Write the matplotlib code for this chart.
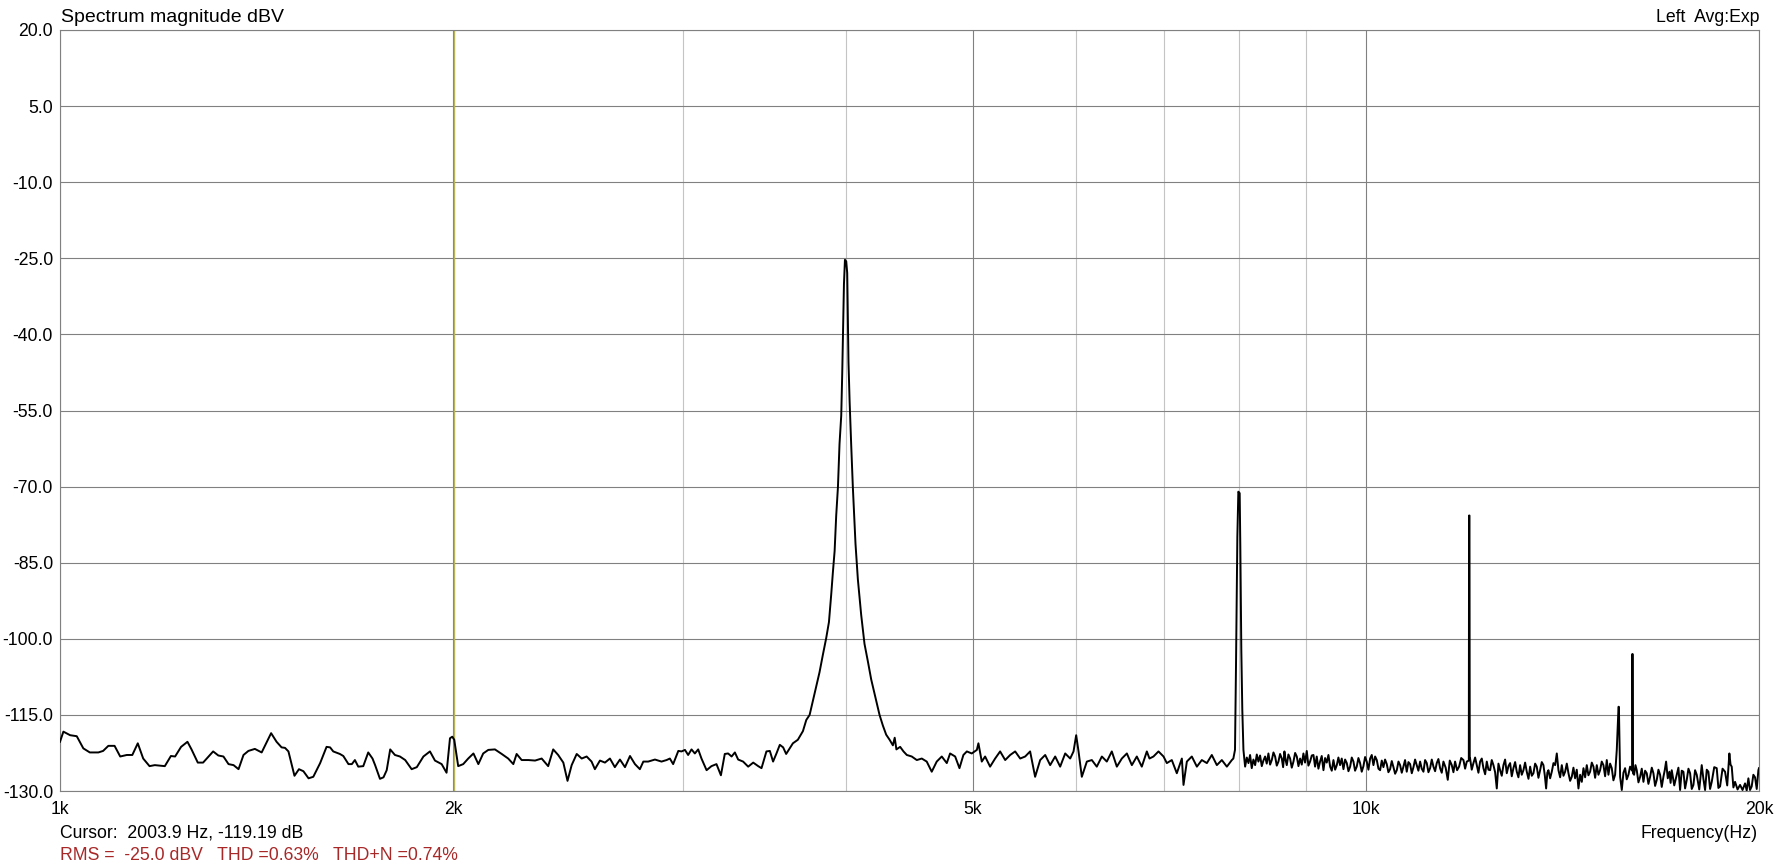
"""
Spectrum magnitude plot (dBV vs frequency), analyser-style layout.
"""

import matplotlib
matplotlib.use("Agg")
import matplotlib.pyplot as plt
import matplotlib.ticker as mticker

plt.rcParams["font.family"] = ["Liberation Sans", "DejaVu Sans"]
plt.rcParams["axes.unicode_minus"] = False

# ── Data ───────────────────────────────────────────────────────────────────────

# 1 kHz .. 3.6 kHz noise floor
noise_low_hz = [
    1000, 1006, 1018, 1030, 1042, 1054, 1070, 1079, 1089, 1101, 1112, 1125, 1136,
    1147, 1158, 1171, 1182, 1203, 1216, 1225, 1238, 1252, 1261, 1275, 1287, 1310,
    1322, 1334, 1346, 1358, 1370, 1382, 1394, 1410, 1427, 1451, 1465, 1478, 1487,
    1496, 1512, 1524, 1536, 1550, 1563, 1582, 1600, 1610, 1619, 1638, 1648, 1663,
    1673, 1682, 1692, 1707, 1722, 1735, 1743, 1758, 1769, 1779, 1790, 1805, 1821,
    1838, 1859, 1876, 1898, 1920, 1937, 1960, 1977, 1989, 1997, 2004, 2018, 2036,
    2054, 2073, 2091, 2109, 2128, 2153, 2179, 2204, 2224, 2237, 2257, 2284, 2311,
    2338, 2365, 2386, 2407, 2429, 2447, 2465, 2487, 2509, 2531, 2553, 2568, 2591,
    2614, 2637, 2660, 2684, 2708, 2732, 2756, 2780, 2797, 2821, 2855, 2888, 2914,
    2931, 2948, 2975, 2992, 3010, 3027, 3045, 3063, 3081, 3099, 3127, 3154, 3182,
    3207, 3229, 3248, 3268, 3287, 3306, 3335, 3365, 3395, 3425, 3445, 3475, 3496,
    3516, 3537, 3558, 3579,
]
noise_low_db = [
    -120.3, -118.3, -119.0, -119.2, -121.6, -122.4, -122.4, -122.1, -121.1, -121.1,
    -123.2, -122.9, -122.9, -120.6, -123.6, -125.1, -124.9, -125.1, -123.1, -123.2,
    -121.3, -120.3, -121.8, -124.4, -124.4, -122.2, -123.0, -123.2, -124.7, -124.9,
    -125.7, -122.9, -122.1, -121.7, -122.4, -118.6, -120.3, -121.4, -121.5, -122.2,
    -127.0, -125.7, -126.1, -127.5, -127.2, -124.5, -121.3, -121.4, -122.2, -122.7,
    -123.1, -124.7, -124.7, -123.9, -125.2, -125.1, -122.4, -123.6, -124.9, -127.6,
    -127.3, -125.9, -121.8, -122.9, -123.2, -123.9, -125.7, -125.3, -123.2, -122.2,
    -124.0, -124.7, -126.4, -119.6, -119.3, -119.9, -125.1, -124.7, -123.6, -122.6,
    -124.7, -122.6, -121.9, -121.8, -122.7, -123.6, -124.7, -122.7, -123.9, -123.9,
    -124.0, -123.6, -125.1, -121.8, -122.9, -124.4, -128.0, -124.9, -122.7, -123.6,
    -123.2, -124.2, -125.7, -124.0, -124.4, -123.6, -125.3, -123.8, -125.3, -123.1,
    -124.7, -125.7, -124.2, -124.2, -123.8, -124.2, -123.9, -123.6, -124.7, -122.1,
    -122.2, -121.9, -122.9, -121.8, -122.6, -121.8, -123.6, -125.9, -125.1, -124.7,
    -126.9, -122.7, -122.6, -123.2, -122.4, -123.8, -124.2, -125.2, -124.4, -125.1,
    -125.5, -122.2, -122.1, -124.2, -122.6, -120.9, -121.4,
]

# 4 kHz fundamental
fundamental_hz = [
    3598, 3641, 3673, 3706, 3728, 3750, 3772, 3794, 3816, 3839, 3861, 3880, 3896,
    3907, 3919, 3930, 3942, 3953, 3965, 3972, 3977, 3984, 3991, 4000, 4007, 4016,
    4024, 4035, 4047, 4066, 4083, 4107, 4131, 4156, 4180, 4217, 4242, 4267, 4292,
    4318, 4343, 4357, 4370,
]
fundamental_db = [
    -122.7, -120.6, -119.9, -118.2, -116.0, -115.0, -112.2, -109.4, -106.6, -103.1,
    -99.9, -96.7, -91.1, -86.9, -82.7, -75.7, -70.1, -61.6, -56.0, -47.6, -39.9,
    -30.1, -25.3, -25.6, -27.9, -45.5, -53.2, -61.6, -70.1, -81.3, -88.3, -95.3,
    -101.0, -104.5, -108.0, -112.2, -115.0, -117.1, -118.9, -119.9, -121.0, -119.5,
    -121.8,
]

# 4.4 kHz .. 8 kHz (incl. 2nd harmonic)
noise_mid_hz = [
    4399, 4425, 4451, 4490, 4530, 4570, 4610, 4651, 4692, 4734, 4776, 4804, 4847,
    4884, 4918, 4948, 4991, 5036, 5050, 5080, 5110, 5155, 5201, 5247, 5294, 5341,
    5388, 5436, 5484, 5532, 5581, 5631, 5681, 5731, 5782, 5833, 5885, 5937, 5972,
    6000, 6025, 6060, 6114, 6168, 6222, 6278, 6333, 6389, 6446, 6503, 6561, 6619,
    6677, 6736, 6796, 6828, 6876, 6937, 6999, 7040, 7102, 7165, 7229, 7250, 7293,
    7357, 7423, 7488, 7555, 7621, 7689, 7757, 7826, 7895, 7916, 7939, 7953, 7972,
    7986, 8005, 8014, 8028, 8042, 8058,
]
noise_mid_db = [
    -121.3, -122.2, -122.9, -123.2, -123.9, -123.6, -124.2, -126.2, -124.2, -123.2,
    -124.5, -122.6, -123.2, -125.5, -122.9, -122.2, -122.6, -121.9, -120.6, -124.2,
    -123.2, -125.2, -123.6, -122.2, -123.9, -122.9, -122.2, -123.6, -123.2, -122.2,
    -127.2, -123.9, -122.9, -124.9, -123.2, -125.2, -122.6, -123.6, -122.2, -119.0,
    -122.2, -127.2, -124.2, -123.9, -125.2, -123.2, -124.2, -122.2, -125.2, -123.6,
    -122.6, -124.9, -123.2, -125.2, -122.2, -123.6, -123.2, -122.2, -123.2, -124.5,
    -123.9, -126.5, -123.6, -128.8, -124.2, -123.2, -125.2, -123.9, -124.5, -122.9,
    -124.9, -123.9, -125.2, -123.9, -123.6, -121.9, -105.5, -79.9, -71.0, -71.3,
    -81.8, -102.2, -114.0, -121.9,
]

# 8 kHz .. 20 kHz (3rd/4th harmonics), (Hz, dBV) pairs
noise_high = [
    (8082, -125.2), (8106, -123.4), (8130, -124.5), (8153, -122.9), (8177, -125.5),
    (8201, -123.8), (8226, -124.9), (8250, -122.8), (8274, -124.2), (8298, -123.0),
    (8323, -125.1), (8347, -124.0), (8372, -123.2), (8396, -124.6), (8421, -122.6),
    (8446, -124.8), (8471, -123.9), (8496, -122.4), (8521, -123.2), (8546, -125.0),
    (8571, -124.2), (8596, -122.7), (8622, -123.6), (8642, -125.3), (8662, -122.2),
    (8680, -123.9), (8698, -124.9), (8723, -122.8), (8749, -123.6), (8775, -125.4),
    (8801, -124.2), (8827, -122.5), (8853, -123.2), (8879, -125.1), (8905, -123.6),
    (8931, -124.8), (8957, -122.6), (8983, -124.4), (9010, -122.1), (9036, -125.0),
    (9063, -124.2), (9090, -123.0), (9117, -122.9), (9143, -125.2), (9170, -123.2),
    (9197, -125.6), (9224, -124.2), (9251, -123.1), (9279, -125.9), (9306, -123.5),
    (9333, -124.4), (9361, -122.9), (9389, -125.2), (9416, -126.0), (9444, -123.9),
    (9472, -125.8), (9500, -124.9), (9527, -123.4), (9555, -124.9), (9583, -123.6),
    (9612, -125.7), (9640, -123.8), (9669, -124.5), (9697, -126.1), (9726, -125.2),
    (9754, -123.4), (9783, -124.2), (9811, -126.0), (9840, -125.2), (9869, -123.5),
    (9898, -124.5), (9927, -126.2), (9957, -125.1), (9986, -123.3), (10015, -124.2),
    (10045, -125.8), (10075, -123.6), (10104, -122.9), (10134, -124.9), (10164, -123.2),
    (10194, -123.9), (10224, -125.6), (10254, -125.9), (10284, -124.0), (10314, -125.3),
    (10344, -123.8), (10375, -124.7), (10405, -126.3), (10436, -125.7), (10467, -124.1),
    (10498, -125.3), (10529, -126.6), (10560, -125.9), (10591, -124.2), (10622, -124.9),
    (10653, -126.4), (10684, -125.2), (10715, -123.9), (10747, -126.2), (10779, -124.3),
    (10811, -124.7), (10843, -126.5), (10875, -125.3), (10906, -123.8), (10938, -124.9),
    (10970, -126.0), (11003, -124.2), (11035, -125.6), (11068, -126.2), (11100, -123.9),
    (11133, -124.5), (11166, -126.3), (11199, -125.5), (11232, -123.8), (11265, -125.2),
    (11298, -126.1), (11331, -124.5), (11364, -123.7), (11398, -125.5), (11431, -126.4),
    (11465, -124.2), (11510, -125.4), (11553, -127.8), (11594, -124.0), (11635, -124.9),
    (11669, -126.3), (11703, -124.2), (11745, -125.9), (11786, -125.2), (11830, -123.5),
    (11877, -123.9), (11912, -125.6), (11947, -124.2), (11990, -124.0), (11995, -75.7),
    (12004, -75.7), (12010, -123.8), (12017, -123.6), (12052, -125.8), (12088, -124.5),
    (12124, -123.4), (12159, -124.9), (12195, -126.4), (12231, -124.2), (12267, -123.6),
    (12303, -125.5), (12340, -126.7), (12376, -124.2), (12412, -125.8), (12449, -125.9),
    (12485, -123.9), (12522, -124.9), (12559, -126.3), (12596, -129.5), (12633, -124.6),
    (12670, -125.9), (12707, -127.0), (12745, -124.9), (12782, -123.8), (12820, -126.5),
    (12858, -125.1), (12896, -124.5), (12933, -127.1), (12971, -125.5), (13010, -124.3),
    (13048, -126.2), (13086, -127.3), (13125, -124.9), (13163, -126.8), (13202, -125.9),
    (13241, -124.4), (13280, -126.2), (13320, -127.6), (13359, -125.2), (13398, -127.0),
    (13437, -126.5), (13477, -124.6), (13516, -125.2), (13556, -127.4), (13596, -125.9),
    (13636, -124.3), (13676, -124.9), (13710, -127.0), (13741, -129.5), (13770, -126.4),
    (13797, -125.9), (13838, -127.5), (13879, -126.2), (13920, -124.5), (13961, -124.9),
    (14002, -122.6), (14043, -125.9), (14085, -127.3), (14126, -124.9), (14168, -127.0),
    (14209, -126.2), (14251, -124.6), (14293, -126.5), (14335, -128.0), (14377, -127.2),
    (14419, -125.4), (14461, -127.5), (14504, -125.8), (14547, -129.5), (14590, -126.8),
    (14633, -128.2), (14676, -125.5), (14719, -127.3), (14762, -124.9), (14805, -126.9),
    (14849, -126.2), (14893, -124.4), (14937, -125.2), (14981, -127.4), (15025, -124.9),
    (15069, -126.8), (15113, -125.9), (15157, -124.2), (15202, -124.9), (15247, -127.1),
    (15292, -123.9), (15337, -126.8), (15382, -124.6), (15427, -125.5), (15472, -127.9),
    (15518, -126.8), (15564, -121.9), (15612, -113.4), (15622, -113.4), (15656, -127.2),
    (15702, -129.8), (15748, -126.4), (15794, -125.5), (15840, -127.7), (15887, -126.8),
    (15934, -125.2), (15990, -126.0), (15996, -103.0), (16005, -103.0), (16015, -126.5),
    (16047, -126.8), (16085, -124.9), (16122, -125.9), (16170, -128.3), (16218, -127.2),
    (16265, -125.6), (16313, -128.2), (16361, -126.0), (16409, -126.5), (16457, -128.6),
    (16506, -127.2), (16555, -125.4), (16603, -126.5), (16652, -129.0), (16701, -127.8),
    (16750, -125.8), (16799, -126.8), (16848, -129.2), (16898, -127.2), (16938, -125.9),
    (16978, -124.2), (17028, -127.5), (17078, -126.2), (17113, -128.4), (17148, -125.9),
    (17224, -128.9), (17300, -126.8), (17351, -125.4), (17402, -129.8), (17453, -126.0),
    (17505, -126.2), (17556, -129.5), (17608, -127.8), (17660, -125.6), (17712, -126.5),
    (17764, -129.6), (17816, -128.8), (17868, -125.9), (17921, -126.8), (18000, -129.7),
    (18079, -124.9), (18132, -127.6), (18186, -129.8), (18240, -125.8), (18293, -126.2),
    (18347, -129.6), (18401, -128.2), (18482, -125.3), (18563, -125.5), (18618, -129.4),
    (18673, -129.1), (18755, -125.6), (18838, -126.2), (18910, -128.9), (18982, -122.6),
    (19021, -124.8), (19061, -125.2), (19117, -129.3), (19173, -128.2), (19258, -129.7),
    (19343, -128.8), (19428, -129.8), (19514, -128.5), (19571, -129.9), (19629, -127.5),
    (19686, -129.8), (19744, -129.1), (19802, -126.8), (19861, -127.3), (19920, -129.6),
    (19978, -125.9), (20000, -125.5),
]

cursor_hz = 2003.9

x_ticks = [1000, 2000, 5000, 10000, 20000]
x_tick_labels = ["1k", "2k", "5k", "10k", "20k"]
x_minor_grid = [3000, 4000, 6000, 7000, 8000, 9000]
y_ticks = [20, 5, -10, -25, -40, -55, -70, -85, -100, -115, -130]
y_tick_labels = ["20.0", "5.0", "-10.0", "-25.0", "-40.0", "-55.0", "-70.0",
                 "-85.0", "-100.0", "-115.0", "-130.0"]

# ── Figure ─────────────────────────────────────────────────────────────────────

W, H = 1789, 866
FONT = 12.7
GRID_DARK = "#808080"
GRID_LIGHT = "#c4c4c4"


def fx(px):
    return px / W


def fy(px):
    return 1 - px / H


high_hz = [f for f, _ in noise_high]
high_db = [d for _, d in noise_high]
freq = noise_low_hz + fundamental_hz + noise_mid_hz + high_hz
level = noise_low_db + fundamental_db + noise_mid_db + high_db

fig = plt.figure(figsize=(W / 100, H / 100), dpi=100, facecolor="white")
ax = fig.add_axes([fx(60), fy(791), fx(1759) - fx(60), fy(30) - fy(791)])

ax.set_xscale("log")
ax.set_xlim(1000, 20000)
ax.set_ylim(-130, 20)

ax.xaxis.set_major_locator(mticker.FixedLocator(x_ticks))
ax.xaxis.set_major_formatter(mticker.FixedFormatter(x_tick_labels))
ax.xaxis.set_minor_locator(mticker.FixedLocator(x_minor_grid))
ax.xaxis.set_minor_formatter(mticker.NullFormatter())
ax.set_yticks(y_ticks)
ax.set_yticklabels(y_tick_labels)

ax.tick_params(which="both", length=0, labelsize=FONT, colors="black")
ax.tick_params(axis="x", pad=7)
ax.tick_params(axis="y", pad=5)

ax.grid(which="major", axis="both", color=GRID_DARK, linewidth=0.8)
ax.grid(which="minor", axis="x", color=GRID_LIGHT, linewidth=0.8)
ax.set_axisbelow(True)
for spine in ax.spines.values():
    spine.set_color(GRID_DARK)
    spine.set_linewidth(0.8)

ax.axvline(cursor_hz, color="#b8b45a", linewidth=1.0, zorder=2)
ax.plot(freq, level, color="black", linewidth=1.4, zorder=3)

fig.text(fx(61), fy(21.5), "Spectrum magnitude dBV", fontsize=14, va="baseline", ha="left")
fig.text(fx(1759), fy(21.5), "Left  Avg:Exp", fontsize=FONT, va="baseline", ha="right")
fig.text(fx(1758), fy(833), "Frequency(Hz)", fontsize=FONT, va="center", ha="right")
fig.text(fx(60), fy(833), "Cursor:  2003.9 Hz, -119.19 dB", fontsize=FONT, va="center", ha="left")
fig.text(fx(60), fy(856), "RMS =  -25.0 dBV   THD =0.63%   THD+N =0.74%",
         fontsize=FONT, va="center", ha="left", color="#a82828")

fig.savefig("out.png", dpi=100, facecolor="white")
